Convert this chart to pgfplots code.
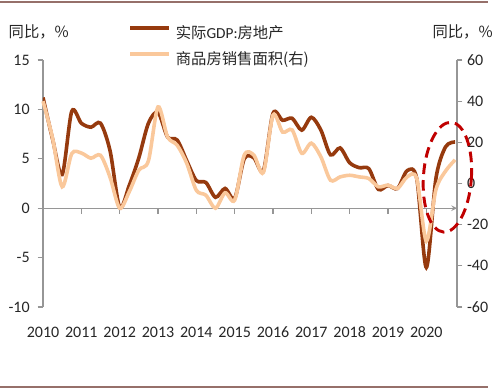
\documentclass[border=0pt]{standalone}
\usepackage{fontspec}
\setmainfont{Carlito}
\newfontfamily\cjk{Noto Sans CJK SC}
\usepackage{pgfplots}
\usepackage{pgfplotstable}
\pgfplotsset{compat=1.18}
\usetikzlibrary{shapes.geometric}
\definecolor{darkc}{RGB}{150,58,14}
\definecolor{lightc}{RGB}{250,200,155}
\definecolor{axisgray}{RGB}{150,150,150}
\definecolor{txt}{RGB}{38,38,38}
\definecolor{ellc}{RGB}{192,0,0}
\definecolor{bordc}{RGB}{150,112,106}

\pgfplotstableread{
x y
2010.00 11.2
2010.25 7.0
2010.50 3.4
2010.75 9.8
2011.00 8.6
2011.25 8.2
2011.50 8.6
2011.75 5.8
2012.00 0.1
2012.25 2.3
2012.50 5.1
2012.75 8.6
2013.00 9.7
2013.25 7.2
2013.50 6.9
2013.75 4.8
2014.00 2.8
2014.25 2.6
2014.50 1.1
2014.75 2.0
2015.00 1.0
2015.25 5.0
2015.50 5.1
2015.75 3.8
2016.00 9.6
2016.25 8.9
2016.50 9.1
2016.75 7.9
2017.00 9.2
2017.25 7.9
2017.50 5.4
2017.75 6.1
2018.00 4.6
2018.25 4.1
2018.50 4.0
2018.75 1.9
2019.00 2.3
2019.25 2.0
2019.50 3.8
2019.75 3.0
2020.00 -6.0
2020.25 3.0
2020.50 6.2
2020.75 6.7
}\gdp

\pgfplotstableread{
x y
2010.00 40
2010.25 22
2010.50 -1.6
2010.75 14.5
2011.00 14.8
2011.25 12.3
2011.50 13.7
2011.75 3
2012.00 -12
2012.25 -4
2012.50 6.5
2012.75 11
2013.00 37.2
2013.25 22.6
2013.50 18.6
2013.75 9.8
2014.00 -3.3
2014.25 -5.7
2014.50 -12
2014.75 -4.5
2015.00 -8.1
2015.25 13.8
2015.50 13.8
2015.75 5.4
2016.00 33.2
2016.25 25
2016.50 26
2016.75 14.7
2017.00 19.6
2017.25 12.9
2017.50 1.6
2017.75 3.2
2018.00 4.0
2018.25 3.2
2018.50 2.4
2018.75 -1.6
2019.00 -0.8
2019.25 -2.4
2019.50 3.2
2019.75 2.4
2020.00 -28
2020.25 -3
2020.50 6
2020.75 11.5
}\sales

\begin{document}
\begin{tikzpicture}
\useasboundingbox (0,0) rectangle (375pt,291pt);
\pgfplotsset{common/.style={
  at={(32.25pt,60.75pt)}, anchor=south west,
  scale only axis, width=310.5pt, height=185.25pt,
  xmin=2010, xmax=2020.8,
  axis line style={draw=axisgray, line width=0.9pt, -},
  tick style={draw=axisgray, line width=0.9pt},
  major tick length=4pt,
  tick align=outside,
  tick label style={font=\fontsize{12}{14}\selectfont, text=txt},
  /pgf/number format/assume math mode=true,
}}
\begin{axis}[common,
  ymin=-10, ymax=15, ytick={-10,-5,0,5,10,15},
  axis x line=middle, axis y line*=left,
  hide obscured x ticks=false,
  xtick align=outside,
  x tick style={draw=axisgray, line width=0.9pt},
  xtick={2010,2011,2012,2013,2014,2015,2016,2017,2018,2019,2020},
  xticklabels={2010,2011,2012,2013,2014,2015,2016,2017,2018,2019,2020},
  xticklabel style={anchor=center, yshift=-89pt},
  yticklabel style={xshift=-2.5pt},
  legend style={at={(axis description cs:0.2053,1.14)}, anchor=north west,
    draw=none, fill=none, inner sep=0pt, row sep=8pt, column sep=3.75pt,
    nodes={inner sep=0pt}, font=\cjk\fontsize{11.5}{13}\selectfont, text=txt},
  legend cell align=left,
  legend image code/.code={\draw[#1] (0pt,3.8pt) -- (29.25pt,3.8pt);},
]
\pgfplotsinvokeforeach{2011,2012,2013,2014,2015,2016,2017,2018,2019,2020}{
  \draw[axisgray, line width=1pt] (axis cs:#1,0) -- ++(0pt,-4.5pt);
}
\addplot[darkc, line width=2.7pt, smooth] table[x=x,y=y] {\gdp};
\addlegendentry{实际{\rmfamily GDP:}房地产}
\addlegendimage{lightc, line width=2.7pt}
\addlegendentry{商品房销售面积(右)}
\end{axis}
\begin{axis}[common,
  ymin=-60, ymax=60, ytick={-60,-40,-20,0,20,40,60},
  axis x line=none, axis y line*=right,
  clip=false,
]
\addplot[lightc, line width=2.7pt, smooth] table[x=x,y=y] {\sales};
\node[draw=ellc, line width=2.2pt, dash pattern=on 8pt off 4.5pt, ellipse, rotate=-4,
  minimum width=36pt, minimum height=82.5pt, inner sep=0pt] at (axis cs:2020.55,3.06) {};
\end{axis}
\node[anchor=west, text=txt, font=\cjk\fontsize{11.5}{13}\selectfont] at (3pt,267pt) {同比，\%};
\node[anchor=east, text=txt, font=\cjk\fontsize{11.5}{13}\selectfont] at (373pt,267pt) {同比，\%};
\draw[bordc, line width=1.1pt] (0pt,289.5pt) -- (366pt,289.5pt);
\draw[bordc, line width=1.1pt] (0pt,0.9pt) -- (366pt,0.9pt);
\end{tikzpicture}
\end{document}
